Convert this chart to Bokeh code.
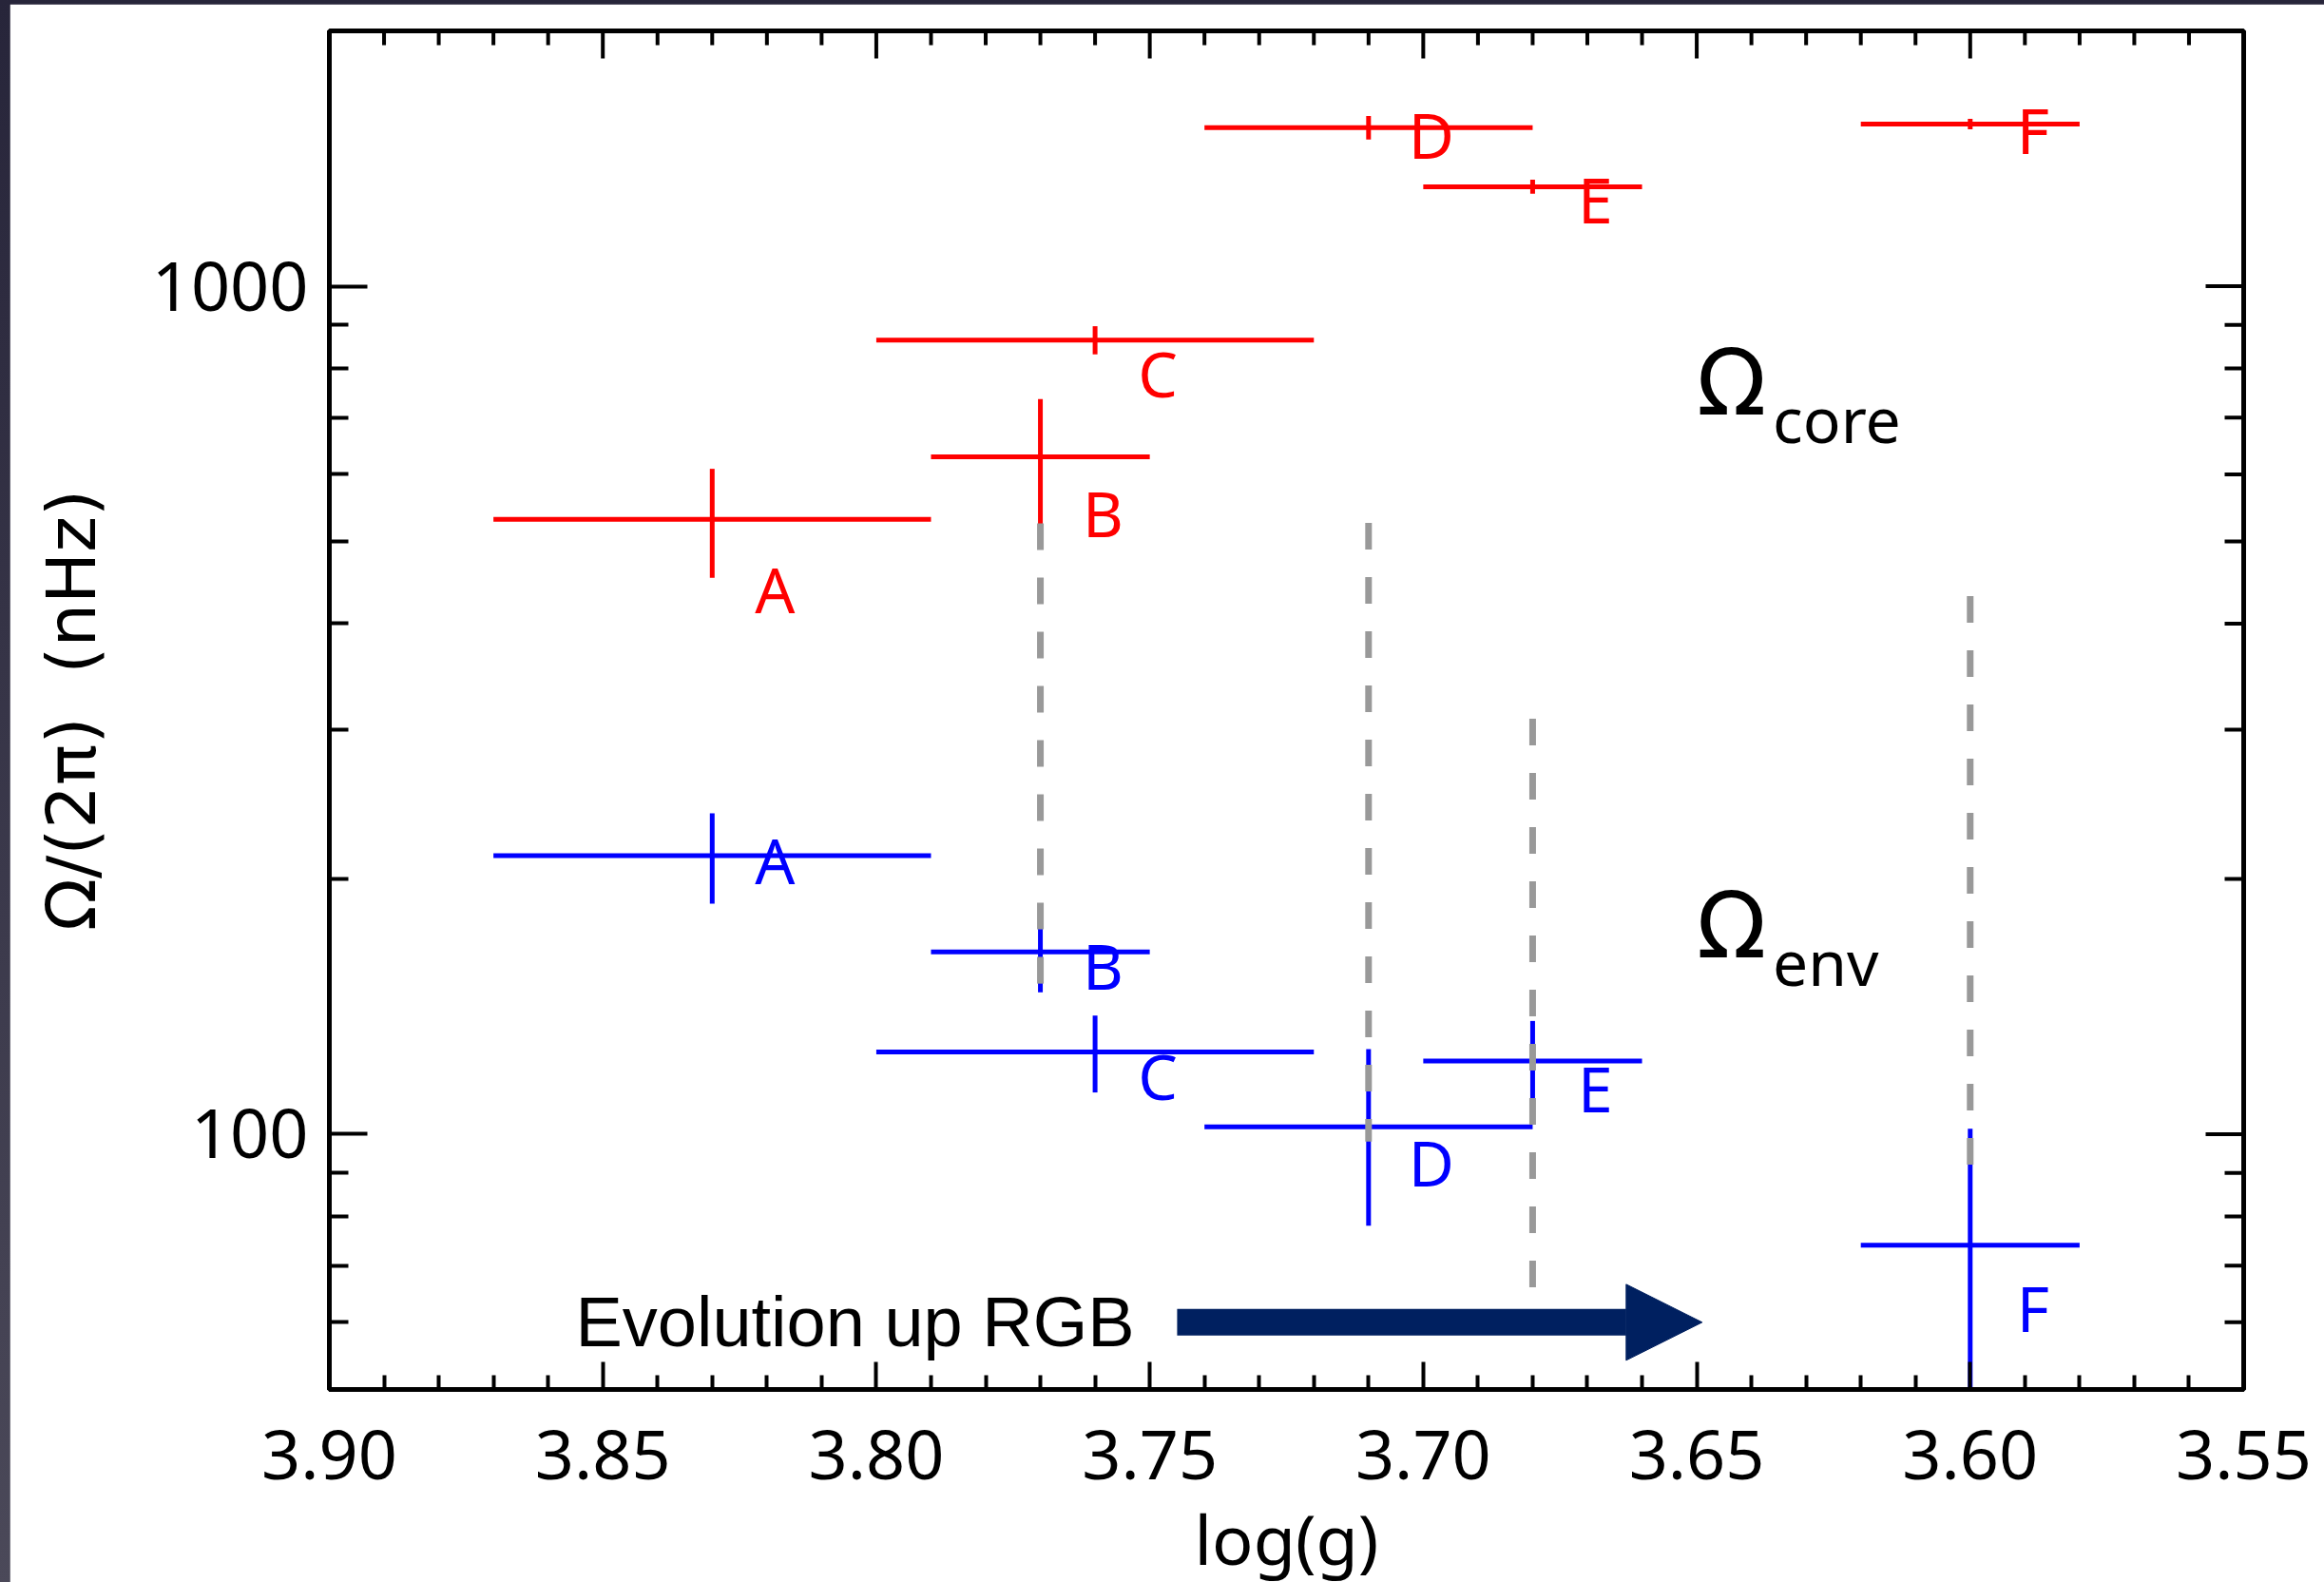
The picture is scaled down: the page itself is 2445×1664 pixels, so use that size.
from bokeh.plotting import figure
from bokeh.models import (Range1d, FixedTicker, NumeralTickFormatter, Arrow, NormalHead,
                          ColumnDataSource)
from bokeh.core.properties import value
from bokeh.layouts import column
from bokeh.embed import file_html
from bokeh.resources import INLINE

# ---------------- data ----------------
stars = ["A", "B", "C", "D", "E", "F"]
logg = [3.83, 3.77, 3.76, 3.71, 3.68, 3.60]
logg_err = [0.04, 0.02, 0.04, 0.03, 0.02, 0.02]
omega_core = [531, 629, 864, 1538, 1310, 1553]
omega_core_err = [78, 107, 33, 49, 25, 22]
omega_env = [213, 164, 125, 102, 122, 74]
omega_env_err = [26, 17, 13, 24, 14, 27.5]

# dashed guide lines
guide_x = [3.77, 3.71, 3.68, 3.60]
guide_top = [525, 526, 309, 431]
guide_bottom = [148, 98, 65, 88]

# axis ticks
x_ticks = [3.90, 3.85, 3.80, 3.75, 3.70, 3.65, 3.60, 3.55]
x_minor_ticks = [3.89, 3.88, 3.87, 3.86, 3.84, 3.83, 3.82, 3.81, 3.79, 3.78, 3.77, 3.76,
                 3.74, 3.73, 3.72, 3.71, 3.69, 3.68, 3.67, 3.66, 3.64, 3.63, 3.62, 3.61,
                 3.59, 3.58, 3.57, 3.56]
y_ticks = [100, 1000]
y_minor_ticks = [60, 70, 80, 90, 200, 300, 400, 500, 600, 700, 800, 900]

# annotations
omega_labels = ["Ω", "Ω"]
omega_subs = ["core", "env"]
omega_label_x = [3.65, 3.65]
omega_label_y = [769, 176]
evolution_text = ["Evolution up RGB"]
evolution_x = [3.855]
evolution_y = [60]
arrow_x = [3.745, 3.649]
arrow_y = [60, 60]

# label pixel offsets (style)
core_label_dy = [73, 58, 34, 7, 13, 6]
env_label_dy = [4, 14, 24, 37, 28, 65]

RED = "#ff0000"
BLUE = "#0000ff"
FONT = "Noto Sans"

X_LO, X_HI = 3.90, 3.55
Y_LO, Y_HI = 50, 2000

p = figure(frame_width=2014, frame_height=1429,
           x_range=Range1d(X_LO, X_HI), y_range=Range1d(Y_LO, Y_HI),
           y_axis_type="log", output_backend="svg", toolbar_location=None,
           min_border_left=336, min_border_top=28, min_border_right=85,
           min_border_bottom=203,
           background_fill_color="white", border_fill_color="white",
           outline_line_color="black", outline_line_width=5)
p.grid.visible = False

xt = FixedTicker(ticks=x_ticks, minor_ticks=x_minor_ticks)
yt = FixedTicker(ticks=y_ticks, minor_ticks=y_minor_ticks)


def style_axis(ax, major_len, minor_len):
    ax.axis_line_color = "black"
    ax.axis_line_width = 5
    ax.major_tick_in = major_len
    ax.major_tick_out = 0
    ax.minor_tick_in = minor_len
    ax.minor_tick_out = 0
    ax.major_tick_line_width = 4
    ax.minor_tick_line_width = 4
    ax.major_tick_line_color = "black"
    ax.minor_tick_line_color = "black"
    ax.major_label_text_font = FONT
    ax.major_label_text_color = "black"
    ax.axis_label_text_font_style = "normal"
    ax.axis_label_text_color = "black"


xa = p.xaxis[0]
xa.ticker = xt
xa.formatter = NumeralTickFormatter(format="0.00")
style_axis(xa, 29, 15)
xa.major_label_text_font_size = "72px"
xa.major_label_standoff = 43
xa.axis_label = "log(g)"
xa.axis_label_text_font = FONT
xa.axis_label_text_font_size = "72px"
xa.axis_label_standoff = 10

ya = p.yaxis[0]
ya.ticker = yt
ya.formatter = NumeralTickFormatter(format="0")
style_axis(ya, 40, 20)
ya.major_label_text_font_size = "72px"
ya.major_label_standoff = 22
ya.axis_label = "Ω/(2π)\u00a0 (nHz)"
ya.axis_label_text_font = "DejaVu Sans"
ya.axis_label_text_font_size = "72px"
ya.axis_label_standoff = 40

# mirrored ticks on the top and right frame edges (half of each dash is clipped by the frame)
p.scatter(x=x_ticks, y=[Y_HI] * len(x_ticks), marker="dash", angle=1.5708, size=58,
          line_color="black", line_width=4)
p.scatter(x=x_minor_ticks, y=[Y_HI] * len(x_minor_ticks), marker="dash", angle=1.5708,
          size=30, line_color="black", line_width=4)
p.scatter(x=[X_HI] * len(y_ticks), y=y_ticks, marker="dash", size=80,
          line_color="black", line_width=4)
p.scatter(x=[X_HI] * len(y_minor_ticks), y=y_minor_ticks, marker="dash", size=40,
          line_color="black", line_width=4)

src = ColumnDataSource(dict(
    logg=logg,
    x0=[g - e for g, e in zip(logg, logg_err)],
    x1=[g + e for g, e in zip(logg, logg_err)],
    core=omega_core,
    core_lo=[c - e for c, e in zip(omega_core, omega_core_err)],
    core_hi=[c + e for c, e in zip(omega_core, omega_core_err)],
    env=omega_env,
    env_lo=[c - e for c, e in zip(omega_env, omega_env_err)],
    env_hi=[c + e for c, e in zip(omega_env, omega_env_err)],
    star=stars,
    core_dy=core_label_dy,
    env_dy=env_label_dy,
))

# core (red)
p.segment(x0="x0", y0="core", x1="x1", y1="core", source=src, line_color=RED, line_width=5)
p.segment(x0="logg", y0="core_lo", x1="logg", y1="core_hi", source=src, line_color=RED, line_width=5)
# envelope (blue)
p.segment(x0="x0", y0="env", x1="x1", y1="env", source=src, line_color=BLUE, line_width=5)
p.segment(x0="logg", y0="env_lo", x1="logg", y1="env_hi", source=src, line_color=BLUE, line_width=5)

# dashed guides
p.segment(x0=guide_x, y0=guide_top, x1=guide_x, y1=guide_bottom,
          line_color="#999999", line_width=7, line_dash="28 29")

# star labels
p.text(x="logg", y="core", text="star", source=src, x_offset=66, y_offset="core_dy",
       text_align="center", text_baseline="alphabetic", text_color=RED,
       text_font=value(FONT), text_font_size="66px")
p.text(x="logg", y="env", text="star", source=src, x_offset=66, y_offset="env_dy",
       text_align="center", text_baseline="alphabetic", text_color=BLUE,
       text_font=value(FONT), text_font_size="66px")

# Omega labels
p.text(x=omega_label_x, y=omega_label_y, text=omega_labels, text_align="left",
       text_baseline="alphabetic", text_color="black", text_font=value("DejaVu Sans"),
       text_font_size="96px")
p.text(x=omega_label_x, y=omega_label_y, text=omega_subs, x_offset=80, y_offset=37,
       text_align="left", text_baseline="alphabetic", text_color="black",
       text_font=value(FONT), text_font_size="66px")

# evolution arrow & text
p.text(x=evolution_x, y=evolution_y, text=evolution_text, text_align="left",
       text_baseline="alphabetic", text_color="black",
       text_font=value("Liberation Sans"), text_font_size="74px")
p.add_layout(Arrow(x_start=arrow_x[0], y_start=arrow_y[0], x_end=arrow_x[1], y_end=arrow_y[1],
                   line_color="#002060", line_width=28,
                   end=NormalHead(size=80, fill_color="#002060", line_color="#002060",
                                  line_width=1)))

layout = column(p, styles={"background": "linear-gradient(#27253a, #4b4959)",
                           "padding-left": "10px", "padding-top": "4px"})

open("out.html", "w").write(file_html(layout, INLINE))
